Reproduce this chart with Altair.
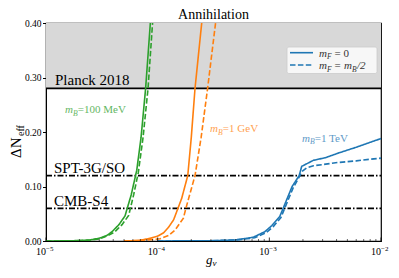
import altair as alt
import pandas as pd

SERIF = "Liberation Serif"

# ---------------- data ----------------
green_x_solid = [1e-5, 1.5e-5, 2e-5, 2.5e-5, 3e-5, 3.5e-5, 3.9e-5, 4.5e-5, 5.1e-5, 5.8e-5, 6.5e-5, 7.1e-5, 7.8e-5, 8.6e-5]
green_y_solid = [0.0, 0.0002, 0.0008, 0.002, 0.005, 0.01, 0.017, 0.03, 0.046, 0.085, 0.13, 0.19, 0.28, 0.40]
green_x_dash = [1e-5, 1.5e-5, 2e-5, 2.5e-5, 3e-5, 3.5e-5, 4.1e-5, 4.8e-5, 5.5e-5, 6.1e-5, 6.7e-5, 7.4e-5, 8.2e-5, 9.0e-5]
green_y_dash = [0.0, 0.0002, 0.0007, 0.0018, 0.004, 0.009, 0.016, 0.03, 0.047, 0.085, 0.125, 0.19, 0.28, 0.40]

orange_x_solid = [5e-5, 6e-5, 7e-5, 8.6e-5, 1e-4, 1.13e-4, 1.25e-4, 1.39e-4, 1.64e-4, 1.86e-4, 2.0e-4, 2.16e-4, 2.48e-4]
orange_y_solid = [0.0, 0.0005, 0.0015, 0.005, 0.009, 0.015, 0.025, 0.039, 0.078, 0.12, 0.19, 0.28, 0.40]
orange_x_dash = [5e-5, 6e-5, 7e-5, 8.6e-5, 1.05e-4, 1.25e-4, 1.43e-4, 1.7e-4, 1.79e-4, 2.16e-4, 2.45e-4, 2.8e-4, 3.3e-4]
orange_y_dash = [0.0, 0.0004, 0.001, 0.0025, 0.004, 0.01, 0.02, 0.042, 0.06, 0.12, 0.19, 0.28, 0.40]

blue_x_solid = [1e-4, 3e-4, 5e-4, 6.3e-4, 7.2e-4, 9.1e-4, 1.05e-3, 1.24e-3, 1.33e-3, 1.6e-3, 1.85e-3, 1.95e-3, 2.48e-3, 3.2e-3, 4.1e-3, 6e-3, 8e-3, 1e-2]
blue_y_solid = [0.0, 0.0005, 0.002, 0.005, 0.007, 0.017, 0.028, 0.045, 0.06, 0.1, 0.12, 0.137, 0.148, 0.153, 0.161, 0.172, 0.181, 0.188]
blue_x_dash = [1e-4, 3e-4, 5e-4, 6.3e-4, 7.4e-4, 9.3e-4, 1.08e-3, 1.27e-3, 1.36e-3, 1.63e-3, 1.88e-3, 1.95e-3, 2.15e-3, 2.48e-3, 3.2e-3, 4.1e-3, 6e-3, 8e-3, 1e-2]
blue_y_dash = [0.0, 0.0004, 0.0018, 0.004, 0.006, 0.015, 0.026, 0.043, 0.058, 0.097, 0.12, 0.127, 0.134, 0.138, 0.141, 0.144, 0.147, 0.15, 0.152]

mass_labels = ["100 MeV", "1 GeV", "1 TeV"]
fermion_labels = ["m_F = 0", "m_F = m_B/2"]
colors = ["#2ca02c", "#ff7f0e", "#1f77b4"]

planck_band = [0.28, 0.40]
planck_line = [0.28]
future_lines = [0.12, 0.06]

x_tick_values = [1e-5, 1e-4, 1e-3, 1e-2]
x_tick_base = ["10", "10", "10", "10"]
x_tick_exp = ["−5", "−4", "−3", "−2"]
x_minor = [k * 10.0 ** e for e in (-5, -4, -3) for k in range(2, 10)]
y_tick_values = [0.0, 0.05, 0.10, 0.15, 0.20, 0.25, 0.30, 0.35, 0.40]

# ---------------- build tables ----------------
rows = []
series = [
    (mass_labels[0], green_x_solid, green_y_solid, green_x_dash, green_y_dash),
    (mass_labels[1], orange_x_solid, orange_y_solid, orange_x_dash, orange_y_dash),
    (mass_labels[2], blue_x_solid, blue_y_solid, blue_x_dash, blue_y_dash),
]
for m, xs, ys, xd, yd in series:
    for i, (a, b) in enumerate(zip(xs, ys)):
        rows.append({"mass": m, "fermion": fermion_labels[0], "g": a, "dN": b, "i": i})
    for i, (a, b) in enumerate(zip(xd, yd)):
        rows.append({"mass": m, "fermion": fermion_labels[1], "g": a, "dN": b, "i": i})
df = pd.DataFrame(rows)
ticks_df = pd.DataFrame({"g": x_tick_values, "base": x_tick_base, "exp": x_tick_exp})

W, H = 335, 218
xscale = alt.Scale(type="log", domain=[1e-5, 1e-2], nice=False)
yscale = alt.Scale(domain=[0, 0.40], nice=False, zero=False)

band = alt.Chart(pd.DataFrame({"y": [planck_band[0]], "y2": [planck_band[1]]})).mark_rect(
    color="#d8d8d8"
).encode(
    x=alt.value(0), x2=alt.value(W),
    y=alt.Y("y:Q", scale=yscale,
            axis=alt.Axis(values=y_tick_values, format=".2f", title=None, grid=False,
                          tickSize=3.5, tickColor="black", domainColor="black",
                          labelFont=SERIF, labelFontSize=9.5, labelColor="black",
                          labelPadding=1.5)),
    y2="y2:Q",
)

planck = alt.Chart(pd.DataFrame({"y": planck_line})).mark_rule(
    color="black", strokeWidth=1.7
).encode(y=alt.Y("y:Q", scale=yscale), x=alt.value(0), x2=alt.value(W))

future = alt.Chart(pd.DataFrame({"y": future_lines})).mark_rule(
    color="black", strokeWidth=1.7, strokeDash=[6, 2, 1.5, 2]
).encode(y=alt.Y("y:Q", scale=yscale), x=alt.value(0), x2=alt.value(W))

lines = alt.Chart(df).mark_line(strokeWidth=1.6, clip=True).encode(
    x=alt.X("g:Q", scale=xscale,
            axis=alt.Axis(values=x_tick_values, labels=False, title=None, grid=False,
                          ticks=False, domainColor="black")),
    y=alt.Y("dN:Q", scale=yscale),
    color=alt.Color("mass:N", scale=alt.Scale(domain=mass_labels, range=colors), legend=None),
    strokeDash=alt.StrokeDash("fermion:N",
                              scale=alt.Scale(domain=fermion_labels, range=[[1, 0], [5.5, 2.4]]),
                              legend=None),
    order="i:Q",
)

major_ticks = alt.Chart(ticks_df).mark_rule(
    color="black", strokeWidth=0.8
).encode(x=alt.X("g:Q", scale=xscale), y=alt.value(H), y2=alt.value(H - 3.5))

minor_ticks = alt.Chart(pd.DataFrame({"g": x_minor})).mark_rule(
    color="black", strokeWidth=0.6
).encode(x=alt.X("g:Q", scale=xscale), y=alt.value(H), y2=alt.value(H - 2))

tick_base = alt.Chart(ticks_df).mark_text(
    font=SERIF, fontSize=10, align="right", baseline="alphabetic", color="black", dx=0
).encode(x=alt.X("g:Q", scale=xscale), y=alt.value(H + 13.5), text="base:N")
tick_exp = alt.Chart(ticks_df).mark_text(
    font=SERIF, fontSize=7, align="left", baseline="alphabetic", color="black", dx=0
).encode(x=alt.X("g:Q", scale=xscale), y=alt.value(H + 9.5), text="exp:N")


def txt(s, x, y, size, color="black", style="normal", align="left", angle=0, opacity=1.0):
    return alt.Chart(alt.Data(values=[{"a": 1}])).mark_text(
        text=s, font=SERIF, fontSize=size, fontStyle=style, color=color, align=align,
        baseline="alphabetic", angle=angle, opacity=opacity
    ).encode(x=alt.value(x), y=alt.value(y))


def mlabel(x, y, sub, rest, color, size=11, opacity=0.75):
    return [
        txt("m", x, y, size, color, "italic", opacity=opacity),
        txt(sub, x + 0.72 * size, y + 0.25 * size, size * 0.7, color, "italic", opacity=opacity),
        txt(rest, x + 0.72 * size + 0.45 * size, y, size, color, opacity=opacity),
    ]


texts = []
texts.append(txt("Annihilation", W / 2, -4, 14, align="center"))
texts.append(txt("Planck 2018", 9, 62, 15))
texts.append(txt("SPT-3G/SO", 8, 150, 15))
texts.append(txt("CMB-S4", 8, 183, 15))
texts += mlabel(19, 90, "B", "=100 MeV", colors[0])
texts += mlabel(164, 109, "B", "=1 GeV", colors[1])
texts += mlabel(256, 118.5, "B", "=1 TeV", colors[2])

# y-axis title  ΔN_eff (rotated)
texts.append(txt("ΔN", -25, 135, 15, angle=270))
texts.append(txt("eff", -22.5, 113, 10, angle=270))
# x-axis title g_ν
texts.append(txt("g", 160, 240.5, 13, style="italic"))
texts.append(txt("ν", 166.5, 243, 9, style="italic"))

# legend (drawn by hand)
leg_box = alt.Chart(alt.Data(values=[{"a": 1}])).mark_rect(
    fill="white", fillOpacity=0.8, stroke="#cccccc", strokeWidth=0.8, cornerRadius=2
).encode(x=alt.value(241), x2=alt.value(331), y=alt.value(24), y2=alt.value(50.5))
leg_l1 = alt.Chart(alt.Data(values=[{"a": 1}])).mark_rule(
    color=colors[2], strokeWidth=1.6
).encode(x=alt.value(244), x2=alt.value(267), y=alt.value(29.7))
leg_l2 = alt.Chart(alt.Data(values=[{"a": 1}])).mark_rule(
    color=colors[2], strokeWidth=1.6, strokeDash=[5.5, 2.4]
).encode(x=alt.value(244), x2=alt.value(267), y=alt.value(42))
ls = 11
lc = "#333333"
leg_txt = [
    txt("m", 273, 33.5, ls, lc, "italic"),
    txt("F", 273 + 8, 36, 7.5, lc, "italic"),
    txt("= 0", 273 + 15.5, 33.5, ls, lc),
    txt("m", 273, 46, ls, lc, "italic"),
    txt("F", 273 + 8, 48.5, 7.5, lc, "italic"),
    txt("=", 273 + 15.5, 46, ls, lc),
    txt("m", 273 + 25, 46, ls, lc, "italic"),
    txt("B", 273 + 33, 48.5, 7.5, lc, "italic"),
    txt("/2", 273 + 38, 46, ls, lc, "italic"),
]

chart = alt.layer(
    band, planck, future, lines, major_ticks, minor_ticks, tick_base, tick_exp,
    *texts, leg_box, leg_l1, leg_l2, *leg_txt
).properties(
    width=W, height=H,
    autosize=alt.AutoSizeParams(type="none"),
    padding={"left": 38, "top": 15, "right": 10, "bottom": 30},
).configure_view(stroke="black", strokeWidth=1.2)

chart.save("out.html", embed_options={"renderer": "svg", "actions": False})
